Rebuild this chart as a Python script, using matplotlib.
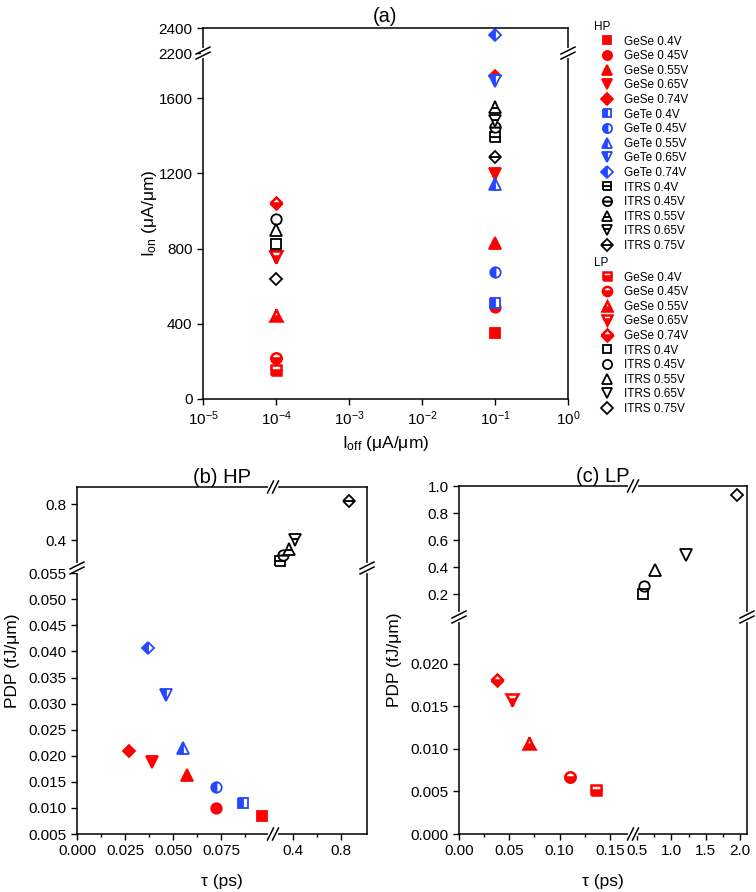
import numpy as np
import matplotlib
matplotlib.use('Agg')
import matplotlib.pyplot as plt
from matplotlib.lines import Line2D
from matplotlib.transforms import IdentityTransform
from matplotlib.ticker import FixedLocator, FixedFormatter, NullLocator

plt.rcParams['font.family'] = ['Liberation Sans', 'DejaVu Sans']
plt.rcParams['mathtext.fontset'] = 'custom'
plt.rcParams['mathtext.rm'] = 'Liberation Sans'
plt.rcParams['mathtext.it'] = 'Liberation Sans:italic'

# ---------------- data ----------------
gese_labels = ['GeSe 0.4V', 'GeSe 0.45V', 'GeSe 0.55V', 'GeSe 0.65V', 'GeSe 0.74V']
gete_labels = ['GeTe 0.4V', 'GeTe 0.45V', 'GeTe 0.55V', 'GeTe 0.65V', 'GeTe 0.74V']
itrs_labels = ['ITRS 0.4V', 'ITRS 0.45V', 'ITRS 0.55V', 'ITRS 0.65V', 'ITRS 0.75V']

# panel (a): Ion vs Ioff
ioff_hp = 1e-1
ioff_lp = 1e-4
ion_hp_gese = [352, 487, 832, 1195, 1717]
ion_hp_gete = [510, 677, 1141, 1691, 2345]
ion_hp_itrs = [1392, 1445, 1552, 1478, 1285]
ion_lp_gese = [155, 219, 448, 757, 1045]
ion_lp_itrs = [827, 960, 901, 757, 640]

# panel (b): HP PDP vs tau
tau_hp_gese = [0.0964, 0.0723, 0.0573, 0.039, 0.0271]
pdp_hp_gese = [0.0085, 0.0100, 0.0163, 0.0189, 0.0210]
tau_hp_gete = [0.0864, 0.0723, 0.0551, 0.0464, 0.037]
pdp_hp_gete = [0.0110, 0.0140, 0.0215, 0.0317, 0.0406]
tau_hp_itrs = [0.29, 0.32, 0.37, 0.42, 0.87]
pdp_hp_itrs = [0.17, 0.23, 0.30, 0.40, 0.83]

# panel (c): LP PDP vs tau
tau_lp_gese = [0.136, 0.110, 0.070, 0.053, 0.038]
pdp_lp_gese = [0.0052, 0.0067, 0.0107, 0.0158, 0.0181]
tau_lp_itrs = [0.59, 0.60, 0.76, 1.21, 1.96]
pdp_lp_itrs = [0.20, 0.26, 0.38, 0.49, 0.93]

markers = ['s', 'o', '^', 'v', 'D']
msizes = [7, 7.5, 8, 8, 6.5]
RED = '#ff0000'
BLUE = '#2448ff'
BLACK = '#000000'

W, H = 756, 892
fig = plt.figure(figsize=(W / 100, H / 100), dpi=100)


def px_axes(left, right, top, bottom):
    return fig.add_axes([left / W, 1 - bottom / H, (right - left) / W, (bottom - top) / H])


def broken(lo0, lo1, hi0, hi1, frac):
    def fwd(v):
        v = np.asarray(v, float)
        lower = (v - lo0) / (lo1 - lo0) * frac
        upper = frac + (v - hi0) / (hi1 - hi0) * (1 - frac)
        return np.where(v <= lo1, lower, np.where(v >= hi0, upper, frac))

    def inv(u):
        u = np.asarray(u, float)
        lower = lo0 + u / frac * (lo1 - lo0)
        upper = hi0 + (u - frac) / (1 - frac) * (hi1 - hi0)
        return np.where(u <= frac, lower, upper)
    return fwd, inv


def style(kind, i):
    m = markers[i]
    base = dict(marker=m, linestyle='none', markersize=msizes[i], markeredgewidth=1.3)
    if kind == 'hp_gese':
        base.update(color=RED, markerfacecolor=RED, markeredgecolor=RED)
    elif kind == 'hp_gete':
        base.update(color=BLUE, markerfacecolor=BLUE, markeredgecolor=BLUE,
                    fillstyle='left', markerfacecoloralt='white')
    elif kind == 'hp_itrs':
        base.update(color=BLACK, markerfacecolor='white', markeredgecolor=BLACK,
                    fillstyle='bottom', markerfacecoloralt='white')
    elif kind == 'lp_gese':
        base.update(color=RED, markerfacecolor=RED, markeredgecolor=RED,
                    fillstyle='bottom', markerfacecoloralt='white', markeredgewidth=1.8)
    elif kind == 'lp_itrs':
        base.update(color=BLACK, markerfacecolor='none', markeredgecolor=BLACK)
    return base


def style_axes(ax):
    for s in ax.spines.values():
        s.set_linewidth(1.1)
    ax.tick_params(which='major', direction='out', length=4.5, width=1.0, labelsize=11, pad=3)
    ax.tick_params(which='minor', direction='out', length=2.5, width=1.0)


def brk_vertical(ax, fy):
    # break mark on left and right spines at axes-fraction fy
    for fx in (0, 1):
        x, y = ax.transAxes.transform((fx, fy))
        fig.add_artist(Line2D([x, x], [y - 3, y + 3], color='white', lw=3,
                              transform=IdentityTransform(), zorder=20))
        for d in (-2.5, 2.5):
            fig.add_artist(Line2D([x - 7, x + 7], [y + d - 3.5, y + d + 3.5], color='black', lw=1.1,
                                  transform=IdentityTransform(), zorder=21))


def brk_horizontal(ax, fx):
    for fy in (0, 1):
        x, y = ax.transAxes.transform((fx, fy))
        fig.add_artist(Line2D([x - 3, x + 3], [y, y], color='white', lw=3,
                              transform=IdentityTransform(), zorder=20))
        for d in (-2.5, 2.5):
            fig.add_artist(Line2D([x + d - 3, x + d + 3], [y - 6, y + 6], color='black', lw=1.1,
                                  transform=IdentityTransform(), zorder=21))


# ---------------- panel (a) ----------------
axa = px_axes(203, 568, 28, 399)
style_axes(axa)
a_frac = 345 / 370
axa.set_xscale('log')
axa.set_xlim(1e-5, 1e0)
axa.set_yscale('function', functions=broken(0, 1840, 2200, 2400, a_frac))
axa.set_ylim(0, 2400)

for i in range(5):
    axa.plot([ioff_lp], [ion_lp_itrs[i]], **style('lp_itrs', i))
for i in range(5):
    axa.plot([ioff_lp], [ion_lp_gese[i]], **style('lp_gese', i))
for i in range(5):
    axa.plot([ioff_hp], [ion_hp_itrs[i]], **style('hp_itrs', i))
for i in range(5):
    axa.plot([ioff_hp], [ion_hp_gese[i]], **style('hp_gese', i))
for i in range(5):
    axa.plot([ioff_hp], [ion_hp_gete[i]], **style('hp_gete', i))

axa.yaxis.set_major_locator(FixedLocator([0, 400, 800, 1200, 1600, 2200, 2400]))
axa.yaxis.set_major_formatter(FixedFormatter(['0', '400', '800', '1200', '1600', '2200', '2400']))
axa.yaxis.set_minor_locator(NullLocator())
xt = [1e-5, 1e-4, 1e-3, 1e-2, 1e-1, 1e0]
axa.xaxis.set_major_locator(FixedLocator(xt))
axa.xaxis.set_major_formatter(FixedFormatter([r'10$^{\mathregular{-5}}$', r'10$^{\mathregular{-4}}$',
                                              r'10$^{\mathregular{-3}}$', r'10$^{\mathregular{-2}}$',
                                              r'10$^{\mathregular{-1}}$', r'10$^{\mathregular{0}}$']))
axa.xaxis.set_minor_locator(NullLocator())
axa.set_xlabel(r'I$_{\mathregular{off}}$ (μA/μm)', fontsize=12.5, labelpad=4)
axa.set_ylabel(r'I$_{\mathregular{on}}$ (μA/μm)', fontsize=12.5, labelpad=0)
axa.set_title('(a)', fontsize=14.5, pad=4)
brk_vertical(axa, a_frac)

# legends
hp_handles = ([Line2D([], [], **style('hp_gese', i)) for i in range(5)] +
              [Line2D([], [], **style('hp_gete', i)) for i in range(5)] +
              [Line2D([], [], **style('hp_itrs', i)) for i in range(5)])
hp_labels = gese_labels + gete_labels + itrs_labels
lp_handles = ([Line2D([], [], **style('lp_gese', i)) for i in range(5)] +
              [Line2D([], [], **style('lp_itrs', i)) for i in range(5)])
lp_labels = gese_labels + itrs_labels

leg_kw = dict(loc='upper left', frameon=False, fontsize=8.5, title_fontsize=8.5,
              alignment='left', handlelength=2.2, handletextpad=0.35, labelspacing=0.22,
              borderpad=0, borderaxespad=0, markerscale=0.88)
fig.legend(hp_handles, hp_labels, title='HP', bbox_to_anchor=(594 / W, 1 - 21 / H), **leg_kw)
fig.legend(lp_handles, lp_labels, title='LP', bbox_to_anchor=(594 / W, 1 - 257 / H), **leg_kw)

# ---------------- panel (b) ----------------
b_xfrac = 196 / 290
b_yfrac = 266 / 347
axb = px_axes(77, 367, 487, 834)
style_axes(axb)
axb.set_xscale('function', functions=broken(0, 0.102, 0.233, 1.02, b_xfrac))
axb.set_xlim(0, 1.02)
axb.set_yscale('function', functions=broken(0.005, 0.056, 0.09, 0.99, b_yfrac))
axb.set_ylim(0.005, 0.99)

for i in range(5):
    axb.plot([tau_hp_itrs[i]], [pdp_hp_itrs[i]], **style('hp_itrs', i))
for i in range(5):
    axb.plot([tau_hp_gese[i]], [pdp_hp_gese[i]], **style('hp_gese', i))
for i in range(5):
    axb.plot([tau_hp_gete[i]], [pdp_hp_gete[i]], **style('hp_gete', i))

bx = [0.0, 0.025, 0.05, 0.075, 0.4, 0.8]
axb.xaxis.set_major_locator(FixedLocator(bx))
axb.xaxis.set_major_formatter(FixedFormatter(['0.000', '0.025', '0.050', '0.075', '0.4', '0.8']))
axb.xaxis.set_minor_locator(FixedLocator([0.0125, 0.0375, 0.0625, 0.0875, 0.6]))
by = [0.005, 0.010, 0.015, 0.020, 0.025, 0.030, 0.035, 0.040, 0.045, 0.050, 0.055, 0.4, 0.8]
axb.yaxis.set_major_locator(FixedLocator(by))
axb.yaxis.set_major_formatter(FixedFormatter(['%.3f' % v for v in by[:-2]] + ['0.4', '0.8']))
axb.yaxis.set_minor_locator(NullLocator())
axb.set_xlabel('τ (ps)', fontsize=12.5, labelpad=11)
axb.set_ylabel('PDP (fJ/μm)', fontsize=12.5, labelpad=6)
axb.set_title('(b) HP', fontsize=14.5, pad=3)
brk_vertical(axb, b_yfrac)
brk_horizontal(axb, b_xfrac)

# ---------------- panel (c) ----------------
c_xfrac = 174 / 288
c_yfrac = 217 / 348
axc = px_axes(459, 747, 486, 834)
style_axes(axc)
axc.set_xscale('function', functions=broken(0, 0.173, 0.44, 2.1, c_xfrac))
axc.set_xlim(0, 2.1)
axc.set_yscale('function', functions=broken(0, 0.0255, 0.03, 1.0, c_yfrac))
axc.set_ylim(0, 1.0)

for i in range(5):
    axc.plot([tau_lp_itrs[i]], [pdp_lp_itrs[i]], **style('lp_itrs', i))
for i in range(5):
    axc.plot([tau_lp_gese[i]], [pdp_lp_gese[i]], **style('lp_gese', i))

cx = [0.0, 0.05, 0.10, 0.15, 0.5, 1.0, 1.5, 2.0]
axc.xaxis.set_major_locator(FixedLocator(cx))
axc.xaxis.set_major_formatter(FixedFormatter(['0.00', '0.05', '0.10', '0.15', '0.5', '1.0', '1.5', '2.0']))
axc.xaxis.set_minor_locator(FixedLocator([0.025, 0.075, 0.125, 0.75, 1.25, 1.75]))
cy = [0.0, 0.005, 0.010, 0.015, 0.020, 0.2, 0.4, 0.6, 0.8, 1.0]
axc.yaxis.set_major_locator(FixedLocator(cy))
axc.yaxis.set_major_formatter(FixedFormatter(['0.000', '0.005', '0.010', '0.015', '0.020',
                                              '0.2', '0.4', '0.6', '0.8', '1.0']))
axc.yaxis.set_minor_locator(NullLocator())
axc.set_xlabel('τ (ps)', fontsize=12.5, labelpad=11)
axc.set_ylabel('PDP (fJ/μm)', fontsize=12.5, labelpad=6)
axc.set_title('(c) LP', fontsize=14.5, pad=3)
brk_vertical(axc, c_yfrac)
brk_horizontal(axc, c_xfrac)

fig.savefig('out.png', dpi=100)
